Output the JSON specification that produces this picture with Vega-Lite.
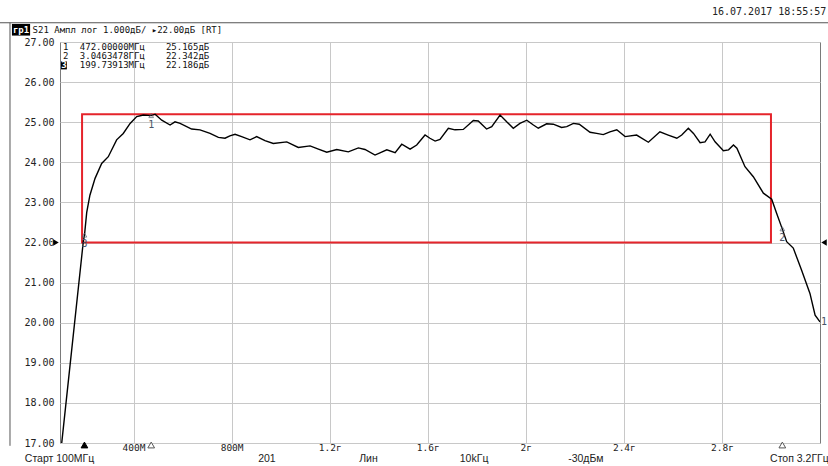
{
  "$schema": "https://vega.github.io/schema/vega-lite/v6.json",
  "width": 760,
  "height": 401,
  "autosize": "none",
  "padding": {"left": 60, "top": 42, "right": 8, "bottom": 23},
  "background": "white",
  "config": {
    "view": {"stroke": "#7a7a7a", "strokeWidth": 1},
    "axis": {"grid": true, "gridColor": "#c8c8c8", "gridWidth": 1, "domain": false, "ticks": false, "labelColor": "#222222", "title": null},
    "text": {"font": "DejaVu Sans Mono", "fontSize": 10, "color": "#111111"}
  },
  "layer": [
    {
      "data": {"values": [{"f": 190, "f2": 3000, "db": 22, "db2": 25.2}]},
      "mark": {"type": "rect", "fillOpacity": 0, "stroke": "#e5242b", "strokeWidth": 2},
      "encoding": {
        "x": {"field": "f", "type": "quantitative", "title": null, "scale": {"domain": [100, 3200], "nice": false, "zero": false},
          "axis": {"values": [400, 800, 1200, 1600, 2000, 2400, 2800], "labelExpr": "datum.value < 1000 ? datum.value + 'M' : format(datum.value / 1000, '.1~f') + 'г'", "labelFont": "DejaVu Sans Mono", "labelFontSize": 9.5, "labelPadding": -1, "labelBaseline": "top"}},
        "x2": {"field": "f2"},
        "y": {"field": "db", "type": "quantitative", "title": null, "scale": {"domain": [17, 27], "nice": false, "zero": false},
          "axis": {"values": [17, 18, 19, 20, 21, 22, 23, 24, 25, 26, 27], "format": ".2f", "labelFont": "DejaVu Sans Mono", "labelFontSize": 10, "labelPadding": 6}},
        "y2": {"field": "db2"}
      }
    },
    {
      "data": {"values": [
        {"f": 100, "db": 16.6}, {"f": 195, "db": 22.02}, {"f": 200, "db": 22.19}, {"f": 209, "db": 22.75}, {"f": 222, "db": 23.18},
        {"f": 243, "db": 23.6}, {"f": 270, "db": 23.97}, {"f": 297, "db": 24.14}, {"f": 331, "db": 24.56}, {"f": 358, "db": 24.72},
        {"f": 386, "db": 24.97}, {"f": 413, "db": 25.14}, {"f": 440, "db": 25.18}, {"f": 472, "db": 25.165}, {"f": 488, "db": 25.2},
        {"f": 515, "db": 25.05}, {"f": 549, "db": 24.93}, {"f": 569, "db": 25.01}, {"f": 590, "db": 24.97}, {"f": 637, "db": 24.83},
        {"f": 671, "db": 24.81}, {"f": 712, "db": 24.72}, {"f": 746, "db": 24.62}, {"f": 773, "db": 24.6}, {"f": 793, "db": 24.66},
        {"f": 814, "db": 24.7}, {"f": 841, "db": 24.64}, {"f": 875, "db": 24.56}, {"f": 902, "db": 24.64}, {"f": 936, "db": 24.54},
        {"f": 970, "db": 24.47}, {"f": 1025, "db": 24.51}, {"f": 1072, "db": 24.37}, {"f": 1120, "db": 24.41}, {"f": 1154, "db": 24.33},
        {"f": 1188, "db": 24.25}, {"f": 1229, "db": 24.32}, {"f": 1276, "db": 24.26}, {"f": 1317, "db": 24.36}, {"f": 1344, "db": 24.32},
        {"f": 1385, "db": 24.18}, {"f": 1433, "db": 24.31}, {"f": 1467, "db": 24.24}, {"f": 1494, "db": 24.45}, {"f": 1528, "db": 24.33},
        {"f": 1555, "db": 24.43}, {"f": 1589, "db": 24.68}, {"f": 1609, "db": 24.6}, {"f": 1630, "db": 24.53}, {"f": 1650, "db": 24.57},
        {"f": 1684, "db": 24.85}, {"f": 1711, "db": 24.81}, {"f": 1745, "db": 24.82}, {"f": 1786, "db": 25.04}, {"f": 1806, "db": 25.03},
        {"f": 1840, "db": 24.83}, {"f": 1861, "db": 24.89}, {"f": 1895, "db": 25.18}, {"f": 1922, "db": 25.01}, {"f": 1949, "db": 24.85},
        {"f": 1976, "db": 24.97}, {"f": 2004, "db": 25.05}, {"f": 2031, "db": 24.93}, {"f": 2051, "db": 24.85}, {"f": 2085, "db": 24.96},
        {"f": 2112, "db": 24.95}, {"f": 2146, "db": 24.87}, {"f": 2167, "db": 24.89}, {"f": 2194, "db": 24.97}, {"f": 2218, "db": 24.95},
        {"f": 2262, "db": 24.75}, {"f": 2289, "db": 24.72}, {"f": 2316, "db": 24.69}, {"f": 2343, "db": 24.76}, {"f": 2371, "db": 24.81},
        {"f": 2405, "db": 24.64}, {"f": 2452, "db": 24.68}, {"f": 2500, "db": 24.5}, {"f": 2547, "db": 24.76}, {"f": 2581, "db": 24.68},
        {"f": 2616, "db": 24.6}, {"f": 2636, "db": 24.68}, {"f": 2663, "db": 24.85}, {"f": 2684, "db": 24.72}, {"f": 2711, "db": 24.49},
        {"f": 2731, "db": 24.51}, {"f": 2752, "db": 24.7}, {"f": 2772, "db": 24.51}, {"f": 2806, "db": 24.29}, {"f": 2827, "db": 24.31},
        {"f": 2847, "db": 24.43}, {"f": 2861, "db": 24.35}, {"f": 2894, "db": 23.89}, {"f": 2928, "db": 23.64}, {"f": 2969, "db": 23.23},
        {"f": 3003, "db": 23.08}, {"f": 3023, "db": 22.73}, {"f": 3046, "db": 22.34}, {"f": 3064, "db": 22.02}, {"f": 3091, "db": 21.86},
        {"f": 3125, "db": 21.31}, {"f": 3159, "db": 20.73}, {"f": 3180, "db": 20.19}, {"f": 3200, "db": 20.02}
      ]},
      "mark": {"type": "line", "color": "#000000", "strokeWidth": 1.4, "clip": true},
      "encoding": {
        "x": {"field": "f", "type": "quantitative", "title": null},
        "y": {"field": "db", "type": "quantitative", "title": null}
      }
    },
    {
      "data": {"values": [{"f": 472, "db": 25.165, "t": "1"}, {"f": 3046.3478, "db": 22.342, "t": "2"}, {"f": 199.73913, "db": 22.186, "t": "3"}]},
      "mark": {"type": "point", "shape": "triangle-up", "filled": false, "stroke": "#556070", "strokeWidth": 1, "size": 22},
      "encoding": {
        "x": {"field": "f", "type": "quantitative", "title": null},
        "y": {"field": "db", "type": "quantitative", "title": null}
      }
    },
    {
      "data": {"values": [{"f": 472, "db": 25.165, "t": "1"}, {"f": 3046.3478, "db": 22.342, "t": "2"}, {"f": 199.73913, "db": 22.186, "t": "3"}]},
      "mark": {"type": "text", "dy": 9, "fontSize": 10, "color": "#4a5568", "align": "center"},
      "encoding": {
        "x": {"field": "f", "type": "quantitative", "title": null},
        "y": {"field": "db", "type": "quantitative", "title": null},
        "text": {"field": "t"}
      }
    },
    {
      "data": {"values": [{"f": 3200, "db": 20.02, "t": "1"}]},
      "mark": {"type": "text", "dx": 1, "fontSize": 10, "color": "#4a5568", "align": "left", "baseline": "middle"},
      "encoding": {
        "x": {"field": "f", "type": "quantitative", "title": null},
        "y": {"field": "db", "type": "quantitative", "title": null},
        "text": {"field": "t"}
      }
    },
    {
      "data": {"values": [{"f": 199.73913, "db": 16.95, "k": "a"}, {"f": 472, "db": 16.95, "k": "b"}, {"f": 3046.3478, "db": 16.95, "k": "b"}]},
      "mark": {"type": "point", "shape": "triangle-up", "size": 45, "strokeWidth": 1},
      "encoding": {
        "x": {"field": "f", "type": "quantitative", "title": null},
        "y": {"field": "db", "type": "quantitative", "title": null},
        "fill": {"field": "k", "type": "nominal", "scale": {"domain": ["a", "b"], "range": ["#000000", "#ffffff"]}, "legend": null},
        "stroke": {"field": "k", "type": "nominal", "scale": {"domain": ["a", "b"], "range": ["#000000", "#555555"]}, "legend": null},
        "opacity": {"value": 1}
      }
    },
    {
      "data": {"values": [{"f": 83.7, "db": 22, "s": "triangle-right"}, {"f": 3216.4, "db": 22, "s": "triangle-left"}]},
      "mark": {"type": "point", "filled": true, "color": "#000000", "size": 40, "opacity": 1},
      "encoding": {
        "x": {"field": "f", "type": "quantitative", "title": null},
        "y": {"field": "db", "type": "quantitative", "title": null},
        "shape": {"field": "s", "type": "nominal", "scale": null}
      }
    },
    {
      "data": {"values": [{"f": -145, "f2": 3233, "db": 27.48}]},
      "mark": {"type": "rule", "color": "#555555", "strokeWidth": 1},
      "encoding": {
        "x": {"field": "f", "type": "quantitative", "title": null},
        "x2": {"field": "f2"},
        "y": {"field": "db", "type": "quantitative", "title": null}
      }
    },
    {
      "data": {"values": [{"f": -104, "db": 27.48, "db2": 16.93}]},
      "mark": {"type": "rule", "color": "#555555", "strokeWidth": 1},
      "encoding": {
        "x": {"field": "f", "type": "quantitative", "title": null},
        "y": {"field": "db", "type": "quantitative", "title": null},
        "y2": {"field": "db2"}
      }
    },
    {
      "data": {"values": [{"f": -96, "f2": -22, "db": 27.45, "db2": 27.16}, {"f": 104, "f2": 128, "db": 26.516, "db2": 26.317}]},
      "mark": {"type": "rect", "color": "#000000"},
      "encoding": {
        "x": {"field": "f", "type": "quantitative", "title": null},
        "x2": {"field": "f2"},
        "y": {"field": "db", "type": "quantitative", "title": null},
        "y2": {"field": "db2"}
      }
    },
    {
      "data": {"values": [{"f": -59, "db": 27.305, "t": "гр1"}, {"f": 116, "db": 26.416, "t": "3"}]},
      "mark": {"type": "text", "color": "#ffffff", "fontWeight": "bold", "align": "center", "baseline": "middle", "fontSize": 9},
      "encoding": {
        "x": {"field": "f", "type": "quantitative", "title": null},
        "y": {"field": "db", "type": "quantitative", "title": null},
        "text": {"field": "t"}
      }
    },
    {
      "data": {"values": [
        {"f": -12, "db": 27.305, "t": "S21 Ампл лог 1.000дБ/ ▸22.00дБ [RT]"},
        {"f": 112, "db": 26.875, "t": "1"},
        {"f": 112, "db": 26.646, "t": "2"},
        {"f": 181, "db": 26.875, "t": "472.00000МГц"},
        {"f": 181, "db": 26.646, "t": "3.0463478ГГц"},
        {"f": 181, "db": 26.416, "t": "199.73913МГц"},
        {"f": 532, "db": 26.875, "t": "25.165дБ"},
        {"f": 532, "db": 26.646, "t": "22.342дБ"},
        {"f": 532, "db": 26.416, "t": "22.186дБ"}
      ]},
      "mark": {"type": "text", "align": "left", "baseline": "middle", "fontSize": 9, "color": "#111111"},
      "encoding": {
        "x": {"field": "f", "type": "quantitative", "title": null},
        "y": {"field": "db", "type": "quantitative", "title": null},
        "text": {"field": "t"}
      }
    },
    {
      "data": {"values": [{"f": 3226, "db": 27.75, "t": "16.07.2017 18:55:57"}]},
      "mark": {"type": "text", "align": "right", "baseline": "middle", "fontSize": 10, "color": "#222222"},
      "encoding": {
        "x": {"field": "f", "type": "quantitative", "title": null},
        "y": {"field": "db", "type": "quantitative", "title": null},
        "text": {"field": "t"}
      }
    },
    {
      "data": {"values": [
        {"f": 98, "db": 16.61, "t": "Старт 100МГц"},
        {"f": 944, "db": 16.61, "t": "201"},
        {"f": 1358, "db": 16.61, "t": "Лин"},
        {"f": 1789, "db": 16.61, "t": "10kГц"},
        {"f": 2245, "db": 16.61, "t": "-30дБм"},
        {"f": 3116, "db": 16.61, "t": "Стоп 3.2ГГц"}
      ]},
      "mark": {"type": "text", "align": "center", "baseline": "middle", "font": "Liberation Sans", "fontSize": 10.5, "color": "#222222"},
      "encoding": {
        "x": {"field": "f", "type": "quantitative", "title": null},
        "y": {"field": "db", "type": "quantitative", "title": null},
        "text": {"field": "t"}
      }
    }
  ]
}
